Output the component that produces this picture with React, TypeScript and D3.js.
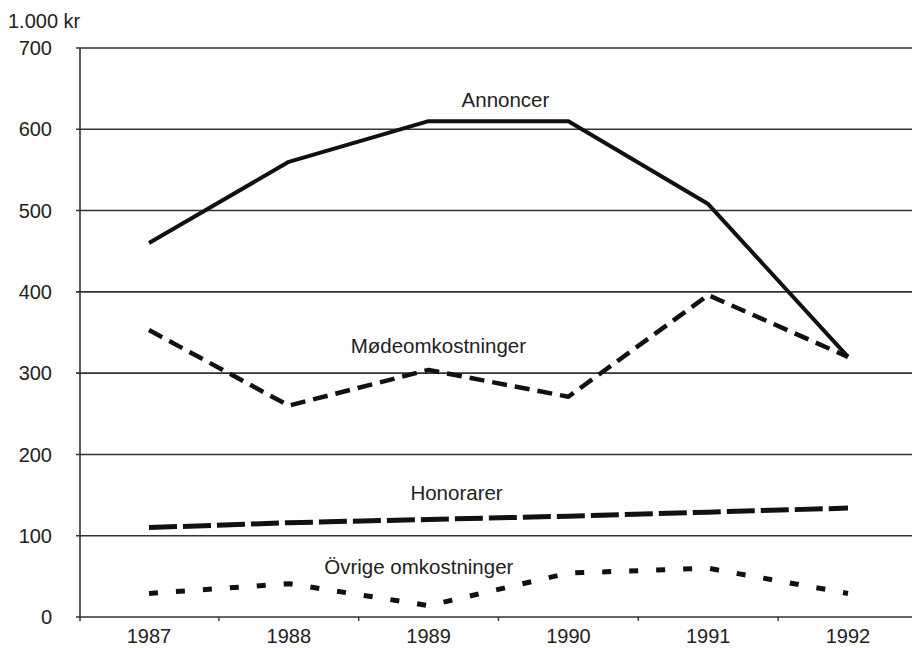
import React from "react";
import * as d3 from "d3";

const years = [1987, 1988, 1989, 1990, 1991, 1992];
const annoncer = [460, 560, 610, 610, 508, 320];
const modeomk = [353, 260, 304, 271, 396, 320];
const honorarer = [110, 116, 120, 124, 129, 134];
const ovrige = [29, 41, 14, 54, 60, 29];
const yTicks = [0, 100, 200, 300, 400, 500, 600, 700];

const W = 913;
const H = 648;

export default function App() {
  const x = d3.scaleLinear().domain([1987, 1992]).range([149, 848]);
  const y = d3.scaleLinear().domain([0, 700]).range([617, 48]);
  const axisX = 80;
  const rightX = 912;

  const mk = (vals: number[]) =>
    d3
      .line<number>()
      .x((_, i) => x(years[i]))
      .y((v) => y(v))(vals) || "";

  const midTicks = years.slice(0, -1).map((yr) => yr + 0.5);
  const font = "'Liberation Sans', Arial, Helvetica, sans-serif";
  const txt = "#222";

  const series = [
    { vals: annoncer, dash: "none", w: 4 },
    { vals: modeomk, dash: "15 8", w: 4.5 },
    { vals: honorarer, dash: "28 6", w: 5 },
    { vals: ovrige, dash: "9 18", w: 5 },
  ];

  const labels = [
    { t: "Annoncer", x: 1989.55 },
    { t: "Mødeomkostninger", x: 1989.07 },
    { t: "Honorarer", x: 1989.2 },
    { t: "Övrige omkostninger", x: 1988.93 },
  ];
  const labelY = [107, 353, 500, 574];

  return (
    <svg
      width={W}
      height={H}
      style={{ position: "absolute", left: 0, top: 0, background: "#fff", display: "block" }}
      fontFamily={font}
    >
      <rect x={0} y={0} width={W} height={H} fill="#fff" />
      {yTicks.map((t) => (
        <g key={t}>
          <line
            x1={axisX - 4}
            x2={rightX}
            y1={y(t)}
            y2={y(t)}
            stroke="#333"
            strokeWidth={1.6}
          />
          <text
            x={52}
            y={y(t)}
            dy="0.36em"
            textAnchor="end"
            fontSize={20}
            fill={txt}
          >
            {t}
          </text>
        </g>
      ))}
      <line
        x1={axisX}
        x2={axisX}
        y1={y(700)}
        y2={y(0) + 4}
        stroke="#333"
        strokeWidth={1.6}
      />
      {midTicks.map((m) => (
        <line
          key={m}
          x1={x(m)}
          x2={x(m)}
          y1={y(0)}
          y2={y(0) + 4}
          stroke="#333"
          strokeWidth={1.4}
        />
      ))}
      {years.map((yr) => (
        <text
          key={yr}
          x={x(yr)}
          y={y(0) + 26}
          textAnchor="middle"
          fontSize={20}
          fill={txt}
        >
          {yr}
        </text>
      ))}
      <text x={8} y={28} fontSize={20} fill={txt}>
        1.000 kr
      </text>
      {series.map((s, i) => (
        <path
          key={i}
          d={mk(s.vals)}
          fill="none"
          stroke="#111"
          strokeWidth={s.w}
          strokeDasharray={s.dash}
          strokeLinejoin="round"
        />
      ))}
      {labels.map((l, i) => (
        <text
          key={l.t}
          x={x(l.x)}
          y={labelY[i]}
          textAnchor="middle"
          fontSize={20.5}
          fill={txt}
        >
          {l.t}
        </text>
      ))}
    </svg>
  );
}
